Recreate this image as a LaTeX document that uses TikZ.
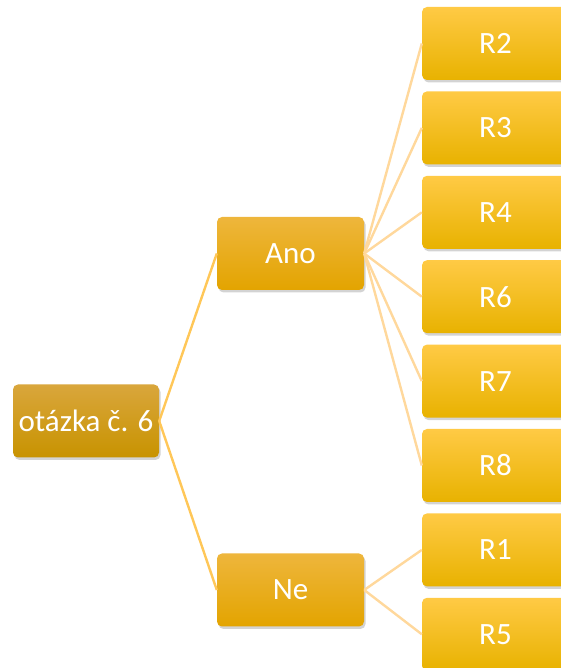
\documentclass[tikz,border=0pt]{standalone}
\usepackage{fontspec}
\setmainfont{Carlito}
\usetikzlibrary{positioning, shadows}

\definecolor{rootTop}{HTML}{D9A63C}
\definecolor{rootBot}{HTML}{C89300}
\definecolor{midTop}{HTML}{EEB63C}
\definecolor{midMid}{HTML}{F3B500}
\definecolor{midBot}{HTML}{E3A400}
\definecolor{leafTop}{HTML}{FFCA45}
\definecolor{leafMid}{HTML}{FFC615}
\definecolor{leafBot}{HTML}{E8B200}
\definecolor{linkA}{HTML}{FFC758}
\definecolor{linkB}{HTML}{FFD89C}

\begin{document}
\begin{tikzpicture}[x=1pt, y=1pt,
        box/.style={rectangle, rounded corners=5pt, minimum width=147pt, minimum height=73pt,
            inner sep=0pt, text=white, font=\fontsize{31}{37}\selectfont,
            drop shadow={opacity=0.35, shadow xshift=1.5pt, shadow yshift=-2.5pt}},
        rootbox/.style={box, top color=rootTop, bottom color=rootBot, minimum width=146pt},
        midbox/.style={box, top color=midTop, middle color=midMid, bottom color=midBot},
        leafbox/.style={box, top color=leafTop, middle color=leafMid, bottom color=leafBot},
        link/.style={draw=linkA, line width=2.4pt},
        leaflink/.style={draw=linkB, line width=2.4pt},
        node distance=11pt]

    \useasboundingbox (0,0) rectangle (560,668);

    % uzly
    \node (q6) [rootbox] at (86,247) {otázka č. 6};
    \node (ano) [midbox] at (290.5,414.5) {Ano};
    \node (ne) [midbox] at (290.5,78) {Ne};

    \node (r2) [leafbox] at (495.5,624.5) {R2};
    \node (r3) [leafbox, below=of r2] {R3};
    \node (r4) [leafbox, below=of r3] {R4};
    \node (r6) [leafbox, below=of r4] {R6};
    \node (r7) [leafbox, below=of r6] {R7};
    \node (r8) [leafbox, below=of r7] {R8};
    \node (r1) [leafbox, below=of r8] {R1};
    \node (r5) [leafbox, below=of r1] {R5};

    % spojnice
    \draw[link] (q6.east) -- (ano.west);
    \draw[link] (q6.east) -- (ne.west);
    \foreach \r in {r2, r3, r4, r6, r7, r8}
        \draw[leaflink] (ano.east) -- (\r.west);
    \foreach \r in {r1, r5}
        \draw[leaflink] (ne.east) -- (\r.west);

\end{tikzpicture}
\end{document}
